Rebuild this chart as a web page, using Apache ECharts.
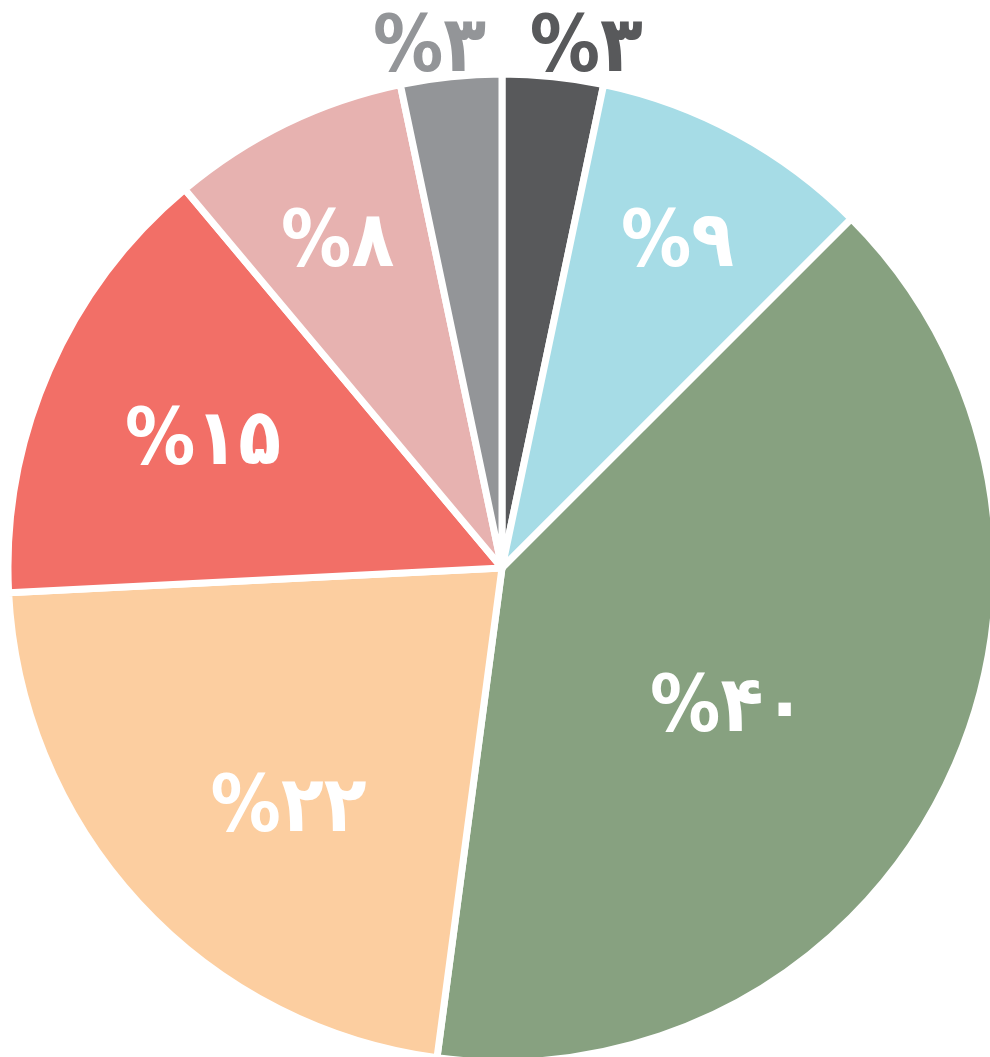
<!DOCTYPE html>
<html>
<head>
<meta charset="utf-8">
<script src="https://cdn.jsdelivr.net/npm/echarts@6/dist/echarts.min.js"></script>
<style>
  html, body { margin: 0; padding: 0; background: #ffffff; }
  #chart { width: 990px; height: 1057px; }
</style>
</head>
<body>
<div id="chart"></div>
<script>
// ---- data ----
const categories = ['A', 'B', 'C', 'D', 'E', 'F', 'G'];
// shares (labels show them rounded)
const values = [3.3, 9.2, 39.6, 22.1, 14.7, 7.8, 3.3];

// ---- style ----
const colors = ['#58595b', '#a6dce6', '#87a180', '#fccea0', '#f26f67', '#e7b2b0', '#939598'];
const PIE_CENTER = [502, 568];
const PIE_RADIUS = 494;
const BORDER = 7;
const GLYPH_SHIFT_Y = 9;   // text box vs. visible glyphs
// inside label placement: fraction of radius and angular nudge (deg) from the slice middle
const labelRadiusRatio = [null, 0.764, 0.536, 0.646, 0.667, 0.753, null];
const labelAngleNudge  = [0, -0.5, 4.4, -5, 0.4, -0.5, 0];

const faDigits = ['۰','۱','۲','۳','۴','۵','۶','۷','۸','۹'];
function toFa(n) { return String(Math.round(n)).replace(/[0-9]/g, d => faDigits[+d]); }

const outsideLabel = {
  0: { length: 26, length2: -31 },
  6: { length: 26, length2: -43 }
};

const data = values.map((v, i) => {
  const item = { name: categories[i], value: v, itemStyle: { color: colors[i] } };
  if (outsideLabel[i]) {
    item.label = { position: 'outside', color: colors[i] };
    item.labelLine = { show: false, length: outsideLabel[i].length, length2: outsideLabel[i].length2 };
  }
  return item;
});

const chart = echarts.init(document.getElementById('chart'), null, { renderer: 'canvas' });
chart.setOption({
  animation: false,
  backgroundColor: '#ffffff',
  series: [{
    type: 'pie',
    center: PIE_CENTER,
    radius: PIE_RADIUS,
    startAngle: 90,
    clockwise: true,
    avoidLabelOverlap: false,
    itemStyle: { borderColor: '#ffffff', borderWidth: BORDER },
    label: {
      show: true,
      position: 'inside',
      color: '#ffffff',
      fontFamily: 'DejaVu Sans Condensed',
      fontWeight: 'bold',
      fontSize: 78,
      formatter: p => '%' + toFa(p.value)
    },
    labelLine: { show: false },
    emphasis: { disabled: true },
    labelLayout: function (p) {
      const k = labelRadiusRatio[p.dataIndex];
      if (k == null) return {};
      const r = p.labelRect;
      const lx = r.x + r.width / 2, ly = r.y + r.height / 2;
      const vx = lx - PIE_CENTER[0], vy = ly - PIE_CENTER[1];
      const theta = Math.atan2(vx, -vy) + labelAngleNudge[p.dataIndex] * Math.PI / 180;
      const R = (PIE_RADIUS - BORDER / 2) * k;
      return {
        x: PIE_CENTER[0] + R * Math.sin(theta),
        y: PIE_CENTER[1] - R * Math.cos(theta) + GLYPH_SHIFT_Y
      };
    },
    data: data
  }]
});
</script>
</body>
</html>
